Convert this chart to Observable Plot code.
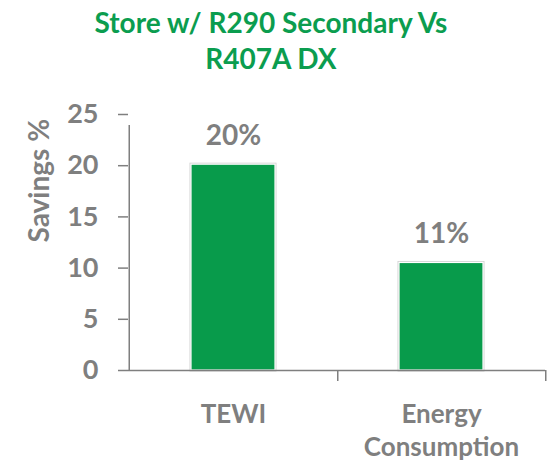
<!DOCTYPE html>
<html>
<head>
<meta charset="utf-8">
<script src="https://cdn.jsdelivr.net/npm/d3@7"></script>
<script src="https://cdn.jsdelivr.net/npm/@observablehq/plot@0.6"></script>
<style>
  html, body { margin: 0; padding: 0; background: #fff; }
  #wrap { position: relative; width: 551px; height: 461px; }
  #title { position: absolute; left: 0; top: 4px; width: 542px; text-align: center;
    font-family: Lato, sans-serif; font-weight: bold; font-size: 28px; line-height: 36px; color: #0b9d4f; }
  #chart { position: absolute; left: 0; top: 0; }
</style>
</head>
<body>
<div id="wrap">
  <div id="chart"></div>
  <div id="title">Store w/ R290 Secondary Vs<br>R407A DX</div>
</div>
<script>
const categories = ["TEWI", "Energy\nConsumption"];
const savings = [20.1, 10.5];
const valueLabels = ["20%", "11%"];
const yTicks = [0, 5, 10, 15, 20, 25];

const data = categories.map((c, i) => ({cat: c, value: savings[i], label: valueLabels[i]}));

const W = 551, H = 461, ML = 128, MR = 6, MT = 114, MB = 91;
const step = (W - ML - MR) / categories.length;
const grey = "#7f7f7f";
const font = "Lato, sans-serif";

const plot = Plot.plot({
  width: W, height: H,
  marginLeft: ML, marginRight: MR, marginTop: MT, marginBottom: MB,
  style: {fontFamily: font, background: "white"},
  x: {domain: categories, padding: 0, axis: null},
  y: {domain: [0, 25], axis: null},
  marks: [
    Plot.barY(data, {x: "cat", y: "value", fill: "#089b4b", stroke: "#d4d4d4", strokeWidth: 3, insetLeft: 62, insetRight: 62}),
    Plot.barY(data, {x: "cat", y: "value", fill: "#089b4b", stroke: "white", strokeWidth: 1.2, insetLeft: 62, insetRight: 62}),
    Plot.ruleY([0], {stroke: grey, strokeWidth: 1.5}),
    Plot.ruleX([categories[0]], {y1: 0, y2: 25, dx: -step / 2, insetBottom: -11, stroke: grey, strokeWidth: 1.5}),
    Plot.ruleX(categories, {y1: 0, y2: 0, dx: step / 2, insetBottom: -11, stroke: grey, strokeWidth: 1.5}),
    Plot.axisY({ticks: yTicks, tickSize: 10, tickPadding: 20, stroke: grey, strokeWidth: 1.5, fontSize: 27, fontWeight: "bold", fill: grey, label: null, tickFormat: d => String(d)}),
    Plot.text(["Savings %"], {frameAnchor: "left", dx: -88, rotate: -90, fontSize: 28, fontWeight: "bold", fill: grey}),
    Plot.text(data, {x: "cat", y: "value", text: "label", lineAnchor: "bottom", dy: -20, fontSize: 28, fontWeight: "bold", fill: grey}),
    Plot.text(data, {x: "cat", text: "cat", frameAnchor: "bottom", lineAnchor: "top", dy: 29, lineHeight: 1.26, fontSize: 26, fontWeight: "bold", fill: grey})
  ]
});
document.getElementById("chart").appendChild(plot);
</script>
</body>
</html>
